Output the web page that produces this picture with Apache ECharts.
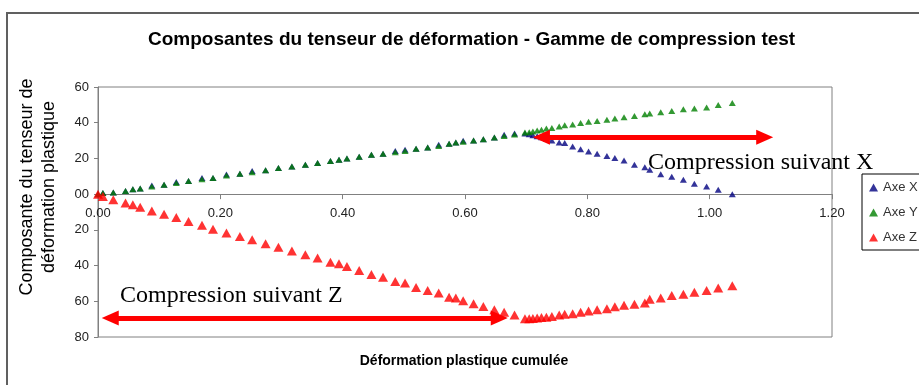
<!DOCTYPE html>
<html>
<head>
<meta charset="utf-8">
<script src="https://cdn.jsdelivr.net/npm/echarts@6/dist/echarts.min.js"></script>
<style>
  html, body { margin: 0; padding: 0; background: #ffffff; }
  #chart { width: 919px; height: 385px; }
</style>
</head>
<body>
<div id="chart"></div>
<script>
// Déformation plastique cumulée (abscisse commune aux trois composantes)
const strain = [0.000, 0.008, 0.025, 0.045, 0.057, 0.069, 0.088, 0.108, 0.128, 0.148,
  0.170, 0.188, 0.210, 0.232, 0.252, 0.274, 0.295, 0.317, 0.339, 0.359,
  0.380, 0.394, 0.407, 0.427, 0.447, 0.466, 0.486, 0.502, 0.520, 0.539,
  0.557, 0.574, 0.585, 0.597, 0.614, 0.630, 0.648, 0.664, 0.681, 0.698,
  0.705, 0.711, 0.718, 0.725, 0.733, 0.742, 0.754, 0.763, 0.776, 0.789,
  0.802, 0.816, 0.832, 0.845, 0.860, 0.877, 0.894, 0.902, 0.920, 0.938,
  0.957, 0.975, 0.995, 1.014, 1.037];

// Composante X du tenseur
const axeX = [0, 0.6, 0.9, 1.7, 2.8, 3.1, 4.9, 5.2, 6.8, 7.3,
  9.0, 9.1, 11.0, 11.4, 12.9, 13.4, 14.6, 15.5, 16.4, 17.4,
  18.6, 19.2, 19.9, 20.9, 22.0, 22.6, 24.1, 24.8, 25.4, 26.1,
  27.6, 28.2, 28.9, 29.9, 30.0, 30.8, 31.7, 33.2, 34.0, 34.0,
  33.5, 33.0, 32.4, 31.8, 31.0, 30.0, 28.9, 28.6, 26.7, 25.2,
  23.9, 22.6, 21.4, 20.2, 18.8, 16.4, 15.1, 13.6, 11.2, 9.7,
  8.0, 5.8, 4.3, 2.4, 0.0];

// Composante Y du tenseur
const axeY = [0, 0.6, 0.9, 1.7, 2.8, 3.1, 4.3, 5.2, 6.2, 7.3,
  8.4, 9.1, 10.4, 11.4, 12.3, 13.4, 14.6, 15.5, 16.4, 17.4,
  18.6, 19.2, 19.9, 20.9, 22.0, 22.6, 23.5, 24.2, 25.4, 26.1,
  27.0, 28.2, 28.9, 29.3, 30.0, 30.8, 31.7, 32.6, 33.4, 34.5,
  34.7, 35.1, 35.6, 36.0, 36.7, 37.0, 37.9, 38.6, 39.0, 39.8,
  40.5, 41.0, 41.6, 42.3, 43.1, 43.8, 44.7, 45.1, 45.8, 46.6,
  47.5, 47.9, 48.5, 49.9, 51.0];

// Composante Z du tenseur
const axeZ = [0, -1.3, -3.2, -5.0, -6.0, -7.3, -9.4, -11.2, -13.1, -15.3,
  -17.4, -19.6, -21.8, -23.7, -25.6, -27.8, -29.7, -31.9, -34.0, -35.8,
  -38.1, -39.0, -40.5, -42.8, -45.0, -46.5, -48.9, -49.8, -52.3, -54.0,
  -55.4, -57.7, -58.2, -59.7, -61.4, -62.9, -64.8, -66.1, -67.7, -69.8,
  -69.8, -69.7, -69.4, -69.1, -69.0, -68.5, -67.7, -67.2, -67.0, -66.1,
  -65.5, -64.8, -64.2, -63.1, -62.2, -61.6, -60.9, -58.8, -58.2, -56.8,
  -56.0, -54.9, -54.0, -52.6, -51.3];

const seriesNames = ['Axe X', 'Axe Y', 'Axe Z'];

// Bornes des axes
const xRange = [0, 1.2];
const yRange = [-80, 60];

// Flèches des deux phases de compression (coordonnées des extrémités)
const arrowX = [[0.725, 31.8], [1.090, 31.8]];
const arrowZ = [[0.020, -69.3], [0.656, -69.3]];

const GRID = { left: 98, right: 87, top: 87, bottom: 48 };
const plotHeight = 385 - GRID.top - GRID.bottom;
// l'axe des abscisses est tracé sur la ligne y = 0
const zeroOffset = -plotHeight * (0 - yRange[0]) / (yRange[1] - yRange[0]);

const chart = echarts.init(document.getElementById('chart'), null, { renderer: 'canvas' });

function points(values) {
  return strain.map((s, i) => [s, values[i]]);
}

const tickFont = { fontFamily: 'Liberation Sans, Arial, sans-serif', fontSize: 13, color: '#222' };

const option = {
  animation: false,
  backgroundColor: '#ffffff',
  title: {
    text: 'Composantes du tenseur de déformation - Gamme de compression test',
    left: 143,
    top: 25,
    textStyle: { fontFamily: 'Liberation Sans, Arial, sans-serif', fontSize: 19, fontWeight: 'bold', color: '#000' }
  },
  grid: Object.assign({
    show: true, borderColor: '#808080', borderWidth: 1, backgroundColor: '#ffffff'
  }, GRID),
  legend: {
    orient: 'vertical',
    left: 862, top: 174,
    data: seriesNames,
    itemWidth: 9, itemHeight: 8, itemGap: 12,
    padding: [7, 30, 6, 7],
    borderColor: '#000', borderWidth: 1,
    textStyle: { fontFamily: 'Liberation Sans, Arial, sans-serif', fontSize: 13, color: '#333' }
  },
  xAxis: {
    type: 'value', min: xRange[0], max: xRange[1], interval: 0.2,
    position: 'bottom', offset: zeroOffset,
    axisLine: { onZero: false, lineStyle: { color: '#808080', width: 1 } },
    axisTick: { show: true, length: 5, lineStyle: { color: '#808080' } },
    axisLabel: Object.assign({ margin: 13, formatter: v => v.toFixed(2) }, tickFont),
    splitLine: { show: false }
  },
  yAxis: {
    type: 'value', min: yRange[0], max: yRange[1], interval: 20,
    axisLine: { show: true, onZero: false, lineStyle: { color: '#808080', width: 1 } },
    axisTick: { show: true, length: 4, lineStyle: { color: '#808080' } },
    axisLabel: Object.assign({ margin: 9, formatter: v => String(Math.abs(v)).padStart(2, '0') }, tickFont),
    splitLine: { show: false }
  },
  series: [
    {
      name: seriesNames[0], type: 'scatter', symbol: 'triangle', symbolSize: [7, 6],
      itemStyle: { color: '#000080' }, data: points(axeX), z: 2
    },
    {
      name: seriesNames[1], type: 'scatter', symbol: 'triangle', symbolSize: [7, 6],
      itemStyle: { color: '#008000' }, data: points(axeY), z: 3
    },
    {
      name: seriesNames[2], type: 'scatter', symbol: 'triangle', symbolSize: [10, 9],
      itemStyle: { color: '#ff0000' }, data: points(axeZ), z: 4,
      markLine: {
        silent: true,
        symbol: ['triangle', 'triangle'],
        symbolSize: [15, 17],
        label: { show: false },
        emphasis: { disabled: true },
        lineStyle: { color: '#ff0000', width: 5, type: 'solid' },
        data: [
          [{ coord: arrowX[0] }, { coord: arrowX[1] }],
          [{ coord: arrowZ[0] }, { coord: arrowZ[1] }]
        ],
        z: 6
      }
    }
  ],
  graphic: [
    {
      type: 'rect', z: 0, silent: true,
      shape: { x: 7, y: 13, width: 1000, height: 1000 },
      style: { fill: 'none', stroke: '#606060', lineWidth: 2 }
    },
    {
      type: 'text', x: 27, y: 187, rotation: Math.PI / 2, silent: true,
      style: { text: 'Composante du tenseur de', align: 'center', verticalAlign: 'middle',
        font: '18px "Liberation Sans", Arial, sans-serif', fill: '#000' }
    },
    {
      type: 'text', x: 49, y: 187, rotation: Math.PI / 2, silent: true,
      style: { text: 'déformation plastique', align: 'center', verticalAlign: 'middle',
        font: '18px "Liberation Sans", Arial, sans-serif', fill: '#000' }
    },
    {
      type: 'text', x: 464, y: 361, silent: true,
      style: { text: 'Déformation plastique cumulée', align: 'center', verticalAlign: 'middle',
        font: 'bold 14px "Liberation Sans", Arial, sans-serif', fill: '#000' }
    },
    {
      type: 'text', x: 648, y: 163, silent: true, z: 10,
      style: { text: 'Compression suivant X', align: 'left', verticalAlign: 'middle',
        font: '24px "Liberation Serif", "Times New Roman", serif', fill: '#000' }
    },
    {
      type: 'text', x: 120, y: 296, silent: true, z: 10,
      style: { text: 'Compression suivant Z', align: 'left', verticalAlign: 'middle',
        font: '24px "Liberation Serif", "Times New Roman", serif', fill: '#000' }
    }
  ]
};

chart.setOption(option);
</script>
</body>
</html>
